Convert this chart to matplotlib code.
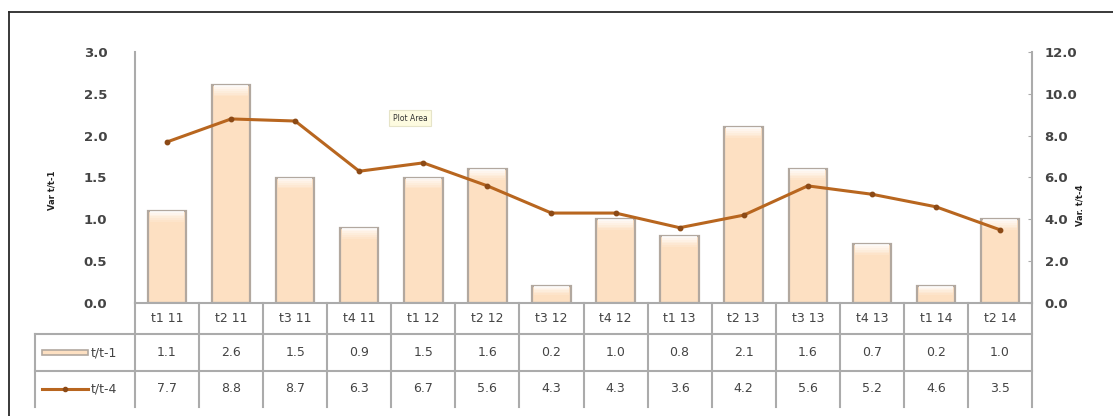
import matplotlib
matplotlib.use("Agg")
import matplotlib.pyplot as plt
from matplotlib.lines import Line2D
from matplotlib.patches import Rectangle
import matplotlib.transforms as mtransforms

# Quarterly variation data
categories = ["t1 11", "t2 11", "t3 11", "t4 11", "t1 12", "t2 12", "t3 12",
              "t4 12", "t1 13", "t2 13", "t3 13", "t4 13", "t1 14", "t2 14"]
var_q = [1.1, 2.6, 1.5, 0.9, 1.5, 1.6, 0.2, 1.0, 0.8, 2.1, 1.6, 0.7, 0.2, 1.0]
var_y = [7.7, 8.8, 8.7, 6.3, 6.7, 5.6, 4.3, 4.3, 3.6, 4.2, 5.6, 5.2, 4.6, 3.5]
series_names = ["t/t-1", "t/t-4"]
left_ticks = [0.0, 0.5, 1.0, 1.5, 2.0, 2.5, 3.0]
right_ticks = [0.0, 2.0, 4.0, 6.0, 8.0, 10.0, 12.0]

TEXT = "#444444"
GRID = "#ababab"
BAR_FACE = "#fde0c2"
BAR_EDGE = "#b2a89f"
LINE = "#b8661f"

W, H = 1113, 416
fig = plt.figure(figsize=(W / 100, H / 100), dpi=100)
fig.patch.set_facecolor("white")

# Outer frame (top and left edges)
fig.add_artist(Line2D([9 / W, 1], [1 - 12 / H, 1 - 12 / H], color="#2a2a2a", lw=1.3))
fig.add_artist(Line2D([9 / W, 9 / W], [0, 1 - 12 / H], color="#2a2a2a", lw=1.3))

ax_l, ax_r, ax_b, ax_t = 135, 1032, 303, 52
ax = fig.add_axes([ax_l / W, 1 - ax_b / H, (ax_r - ax_l) / W, (ax_b - ax_t) / H])
ax2 = ax.twinx()

x = list(range(len(categories)))
ax.set_xlim(-0.5, len(categories) - 0.5)
ax.set_ylim(0, 3.0)
ax2.set_ylim(0, 12.0)

# Bars with a soft light glow fading down from the top
ax.bar(x, var_q, width=0.6, color=BAR_FACE, edgecolor=BAR_EDGE, linewidth=1.6, zorder=2)
steps = 6
for s in range(steps):
    frac_top = s / steps
    frac_bot = (s + 1) / steps
    depth = [min(0.13, v * 0.5) for v in var_q]
    bottoms = [v - d * frac_bot for v, d in zip(var_q, depth)]
    heights = [d * (frac_bot - frac_top) for d in depth]
    ax.bar(x, heights, bottom=bottoms, width=0.54, color="white",
           alpha=0.85 * (1 - s / steps), linewidth=0, zorder=3)

ax2.plot(x, var_y, color=LINE, lw=2.2, marker="o", markersize=3.2,
         markerfacecolor="#8c4a16", markeredgecolor="#8c4a16", zorder=4)

for a in (ax, ax2):
    a.set_xticks([])
    for s in ("top", "bottom"):
        a.spines[s].set_visible(False)
    a.patch.set_visible(False)
ax.spines["right"].set_visible(False)
ax2.spines["left"].set_visible(False)
ax.spines["left"].set_color(GRID)
ax.spines["left"].set_linewidth(1.5)
ax2.spines["right"].set_color(GRID)
ax2.spines["right"].set_linewidth(1.5)

ax.set_yticks(left_ticks)
ax.set_yticklabels([f"{t:.1f}" for t in left_ticks], color=TEXT, fontsize=9.5,
                   fontweight="bold")
ax.tick_params(axis="y", length=0, pad=20)
ax2.set_yticks(right_ticks)
ax2.set_yticklabels([f"{t:.1f}" for t in right_ticks], color=TEXT, fontsize=9.5,
                    fontweight="bold")
ax2.tick_params(axis="y", direction="in", length=3, color=GRID, pad=9)

fig.text(52 / W, 1 - 190 / H, "Var t/t-1", rotation=90, ha="center", va="center",
         fontsize=6, fontweight="bold", color="#222222")
fig.text(1080 / W, 1 - 205 / H, "Var. t/t-4", rotation=90, ha="center", va="center",
         fontsize=6, fontweight="bold", color="#222222")

ax.text(0.3066, 0.737, "Plot Area", transform=ax.transAxes, ha="center", va="center",
        fontsize=5.5, color="#333333",
        bbox=dict(boxstyle="square,pad=0.5", facecolor="#fdfbe0", edgecolor="#e6e4c8",
                  linewidth=0.8))

# Data table below the plot
trans = mtransforms.blended_transform_factory(ax.transData, ax.transAxes)
hpx = ax_b - ax_t
rows_px = [303, 334, 371, 407]
rows = [(ax_b - r) / hpx for r in rows_px]
left_edge = -0.5 - (ax_l - 35) / ((ax_r - ax_l) / len(categories))
n = len(categories)

def hline(x0, x1, y):
    ax.add_line(Line2D([x0, x1], [y, y], transform=trans, color=GRID, lw=1.5,
                       clip_on=False))

def vline(xx, y0, y1):
    ax.add_line(Line2D([xx, xx], [y0, y1], transform=trans, color=GRID, lw=1.5,
                       clip_on=False))

hline(-0.5, n - 0.5, rows[0])
hline(left_edge, n - 0.5, rows[1])
hline(left_edge, n - 0.5, rows[2])
for i in range(n + 1):
    vline(i - 0.5, rows[0], rows[3])
vline(left_edge, rows[1], rows[3])

mid = [(rows[k] + rows[k + 1]) / 2 for k in range(3)]
for i, c in enumerate(categories):
    ax.text(i, mid[0], c, transform=trans, ha="center", va="center", fontsize=9,
            color=TEXT, clip_on=False)
    ax.text(i, mid[1], f"{var_q[i]:.1f}", transform=trans, ha="center", va="center",
            fontsize=9, color=TEXT, clip_on=False)
    ax.text(i, mid[2], f"{var_y[i]:.1f}", transform=trans, ha="center", va="center",
            fontsize=9, color=TEXT, clip_on=False)

# Legend keys in the first column
key_x0 = left_edge + 7 / 64
key_x1 = left_edge + 53 / 64
ax.add_patch(Rectangle((key_x0, mid[1] - 0.008), key_x1 - key_x0, 0.016,
                       transform=trans, facecolor=BAR_FACE, edgecolor=BAR_EDGE,
                       linewidth=1.2, clip_on=False))
ax.add_line(Line2D([key_x0, key_x1], [mid[2], mid[2]], transform=trans, color=LINE,
                   lw=2.2, clip_on=False))
ax.add_line(Line2D([(key_x0 + key_x1) / 2], [mid[2]], transform=trans, marker="o",
                   markersize=3, color="#8c4a16", clip_on=False))
for k, name in enumerate(series_names):
    ax.text(left_edge + 56 / 64, mid[k + 1], name, transform=trans, ha="left",
            va="center", fontsize=9, color=TEXT, clip_on=False)

fig.savefig("out.png", dpi=100, facecolor="white")
